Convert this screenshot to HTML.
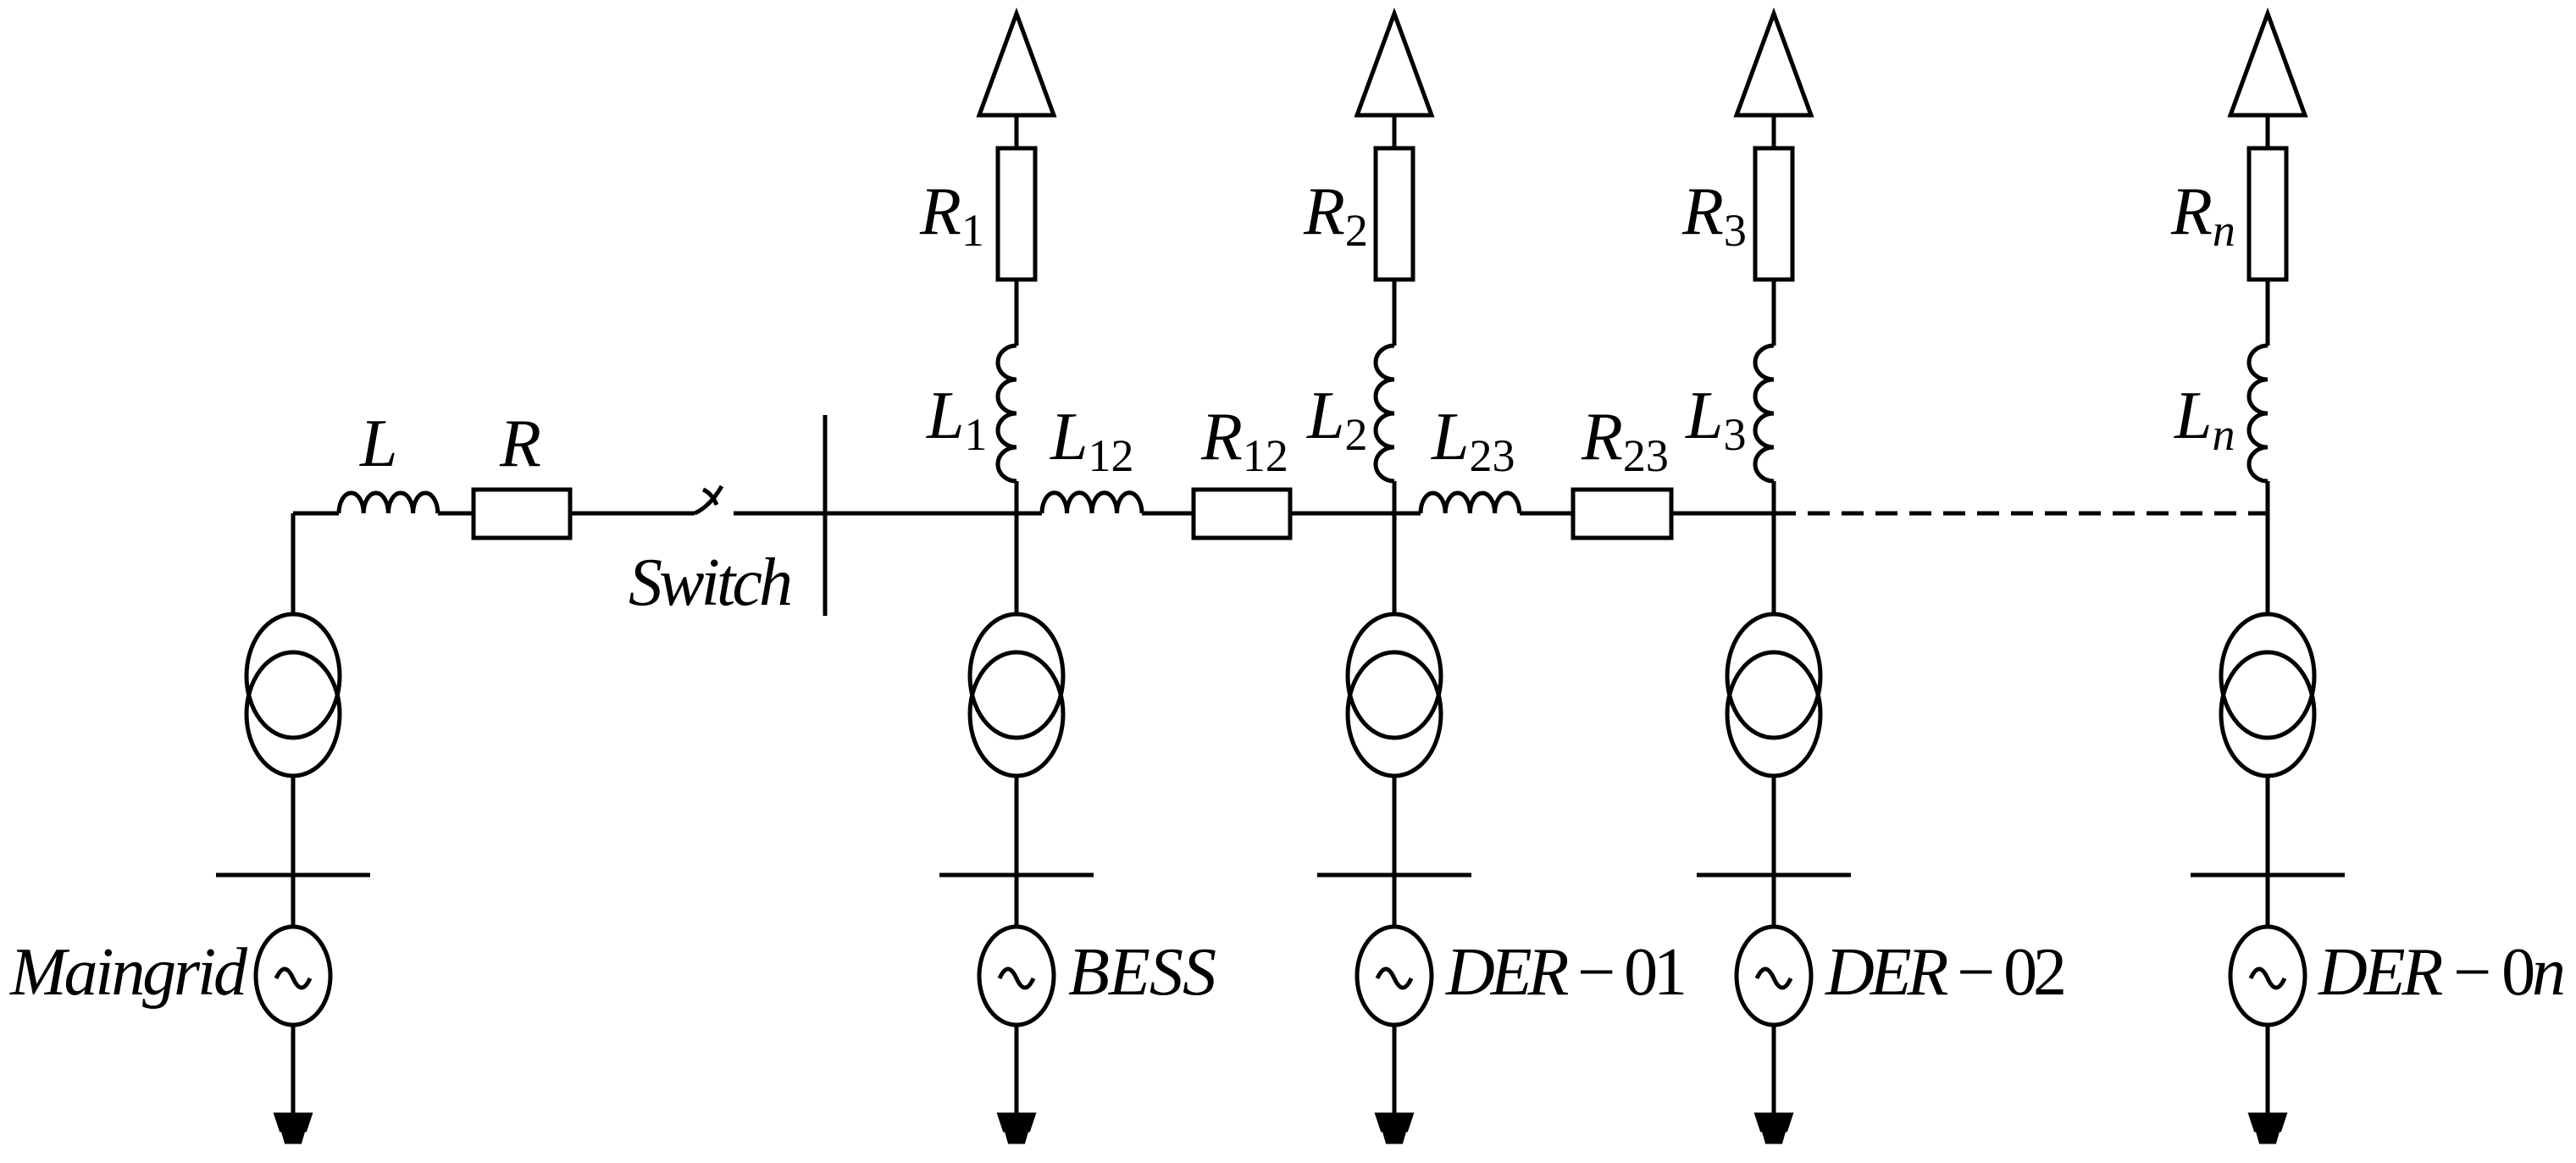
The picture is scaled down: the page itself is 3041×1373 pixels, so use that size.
<!DOCTYPE html>
<html><head><meta charset="utf-8"><style>html,body{margin:0;padding:0;background:#fff}svg{display:block}</style></head>
<body>
<svg width="3041" height="1373" viewBox="0 0 3041 1373" xmlns="http://www.w3.org/2000/svg">
<defs>
<g id="xf" fill="none" stroke="#000" stroke-width="5">
<ellipse cx="0" cy="798" rx="55" ry="73"/>
<ellipse cx="0" cy="843" rx="55" ry="73"/>
<line x1="0" y1="916" x2="0" y2="1095"/>
<line x1="-91" y1="1033" x2="91" y2="1033"/>
<ellipse cx="0" cy="1152" rx="44" ry="58"/>
<path d="M-20 1155 q10 -22 20 0 t20 0"/>
<line x1="0" y1="1210" x2="0" y2="1318"/>
<path d="M-20 1316 h40 l-6 18 h-28 z M-12 1334 h24 l-4 14 h-16 z" fill="#000"/>
</g>
<g id="load" fill="none" stroke="#000" stroke-width="5">
<path d="M0 16 L44 136 L-44 136 Z"/>
<line x1="0" y1="136" x2="0" y2="175"/>
<rect x="-22" y="175" width="44" height="155"/>
<line x1="0" y1="330" x2="0" y2="408"/>
<path d="M0 408 a22 20 0 0 0 0 40 a22 20 0 0 0 0 40 a22 20 0 0 0 0 40 a22 20 0 0 0 0 40"/>
<line x1="0" y1="568" x2="0" y2="725"/>
</g>
</defs>
<g fill="none" stroke="#000" stroke-width="5">
<line x1="346" y1="606" x2="346" y2="725"/>
<line x1="346" y1="606" x2="400" y2="606"/>
<path d="M400 606 a14.6 24 0 0 1 29.2 0 a14.6 24 0 0 1 29.2 0 a14.6 24 0 0 1 29.2 0 a14.6 24 0 0 1 29.2 0"/>
<line x1="517" y1="606" x2="559" y2="606"/>
<rect x="559" y="578" width="114" height="57"/>
<line x1="673" y1="606" x2="820" y2="606"/>
<path d="M820 606 Q838 598 852 574 M830 578 q10 4 16 18"/>
<line x1="866" y1="606" x2="1230" y2="606"/>
<line x1="974" y1="490" x2="974" y2="727"/>
<path d="M1230 606 a14.6 24 0 0 1 29.5 0 a14.6 24 0 0 1 29.5 0 a14.6 24 0 0 1 29.5 0 a14.6 24 0 0 1 29.5 0"/>
<line x1="1348" y1="606" x2="1409" y2="606"/>
<rect x="1409" y="578" width="114" height="57"/>
<line x1="1523" y1="606" x2="1677" y2="606"/>
<path d="M1677 606 a14.6 24 0 0 1 29.2 0 a14.6 24 0 0 1 29.2 0 a14.6 24 0 0 1 29.2 0 a14.6 24 0 0 1 29.2 0"/>
<line x1="1794" y1="606" x2="1857" y2="606"/>
<rect x="1857" y="578" width="116" height="57"/>
<line x1="1973" y1="606" x2="2094" y2="606"/>
<line x1="2094" y1="606" x2="2677" y2="606" stroke-dasharray="26 14"/>
</g>
<use href="#xf" x="346"/>
<use href="#xf" x="1200"/><use href="#load" x="1200"/>
<use href="#xf" x="1646"/><use href="#load" x="1646"/>
<use href="#xf" x="2094"/><use href="#load" x="2094"/>
<use href="#xf" x="2677"/><use href="#load" x="2677"/>
<g font-family="'Liberation Serif', serif" font-style="italic" font-size="80" fill="#000">
<text x="425" y="550">L</text>
<text x="590" y="550">R</text>
<text x="742" y="714" textLength="194">Switch</text>
<text x="1086" y="276">R<tspan font-style="normal" font-size="54" dy="14">1</tspan></text>
<text x="1094" y="517">L<tspan font-style="normal" font-size="54" dy="14">1</tspan></text>
<text x="1240" y="542">L<tspan font-style="normal" font-size="54" dy="14">12</tspan></text>
<text x="1418" y="542">R<tspan font-style="normal" font-size="54" dy="14">12</tspan></text>
<text x="1539" y="276">R<tspan font-style="normal" font-size="54" dy="14">2</tspan></text>
<text x="1543" y="517">L<tspan font-style="normal" font-size="54" dy="14">2</tspan></text>
<text x="1690" y="542">L<tspan font-style="normal" font-size="54" dy="14">23</tspan></text>
<text x="1867" y="542">R<tspan font-style="normal" font-size="54" dy="14">23</tspan></text>
<text x="1986" y="276">R<tspan font-style="normal" font-size="54" dy="14">3</tspan></text>
<text x="1990" y="517">L<tspan font-style="normal" font-size="54" dy="14">3</tspan></text>
<text x="2563" y="276">R<tspan font-size="54" dy="14">n</tspan></text>
<text x="2567" y="517">L<tspan font-size="54" dy="14">n</tspan></text>
<text x="12" y="1174" textLength="280">Maingrid</text>
<text x="1261" y="1174" textLength="175">BESS</text>
<text x="1707" y="1174" textLength="285">DER<tspan font-style="normal"> − 01</tspan></text>
<text x="2155" y="1174" textLength="285">DER<tspan font-style="normal"> − 02</tspan></text>
<text x="2737" y="1174" textLength="292">DER<tspan font-style="normal"> − 0</tspan>n</text>
</g>
</svg>
</body></html>
